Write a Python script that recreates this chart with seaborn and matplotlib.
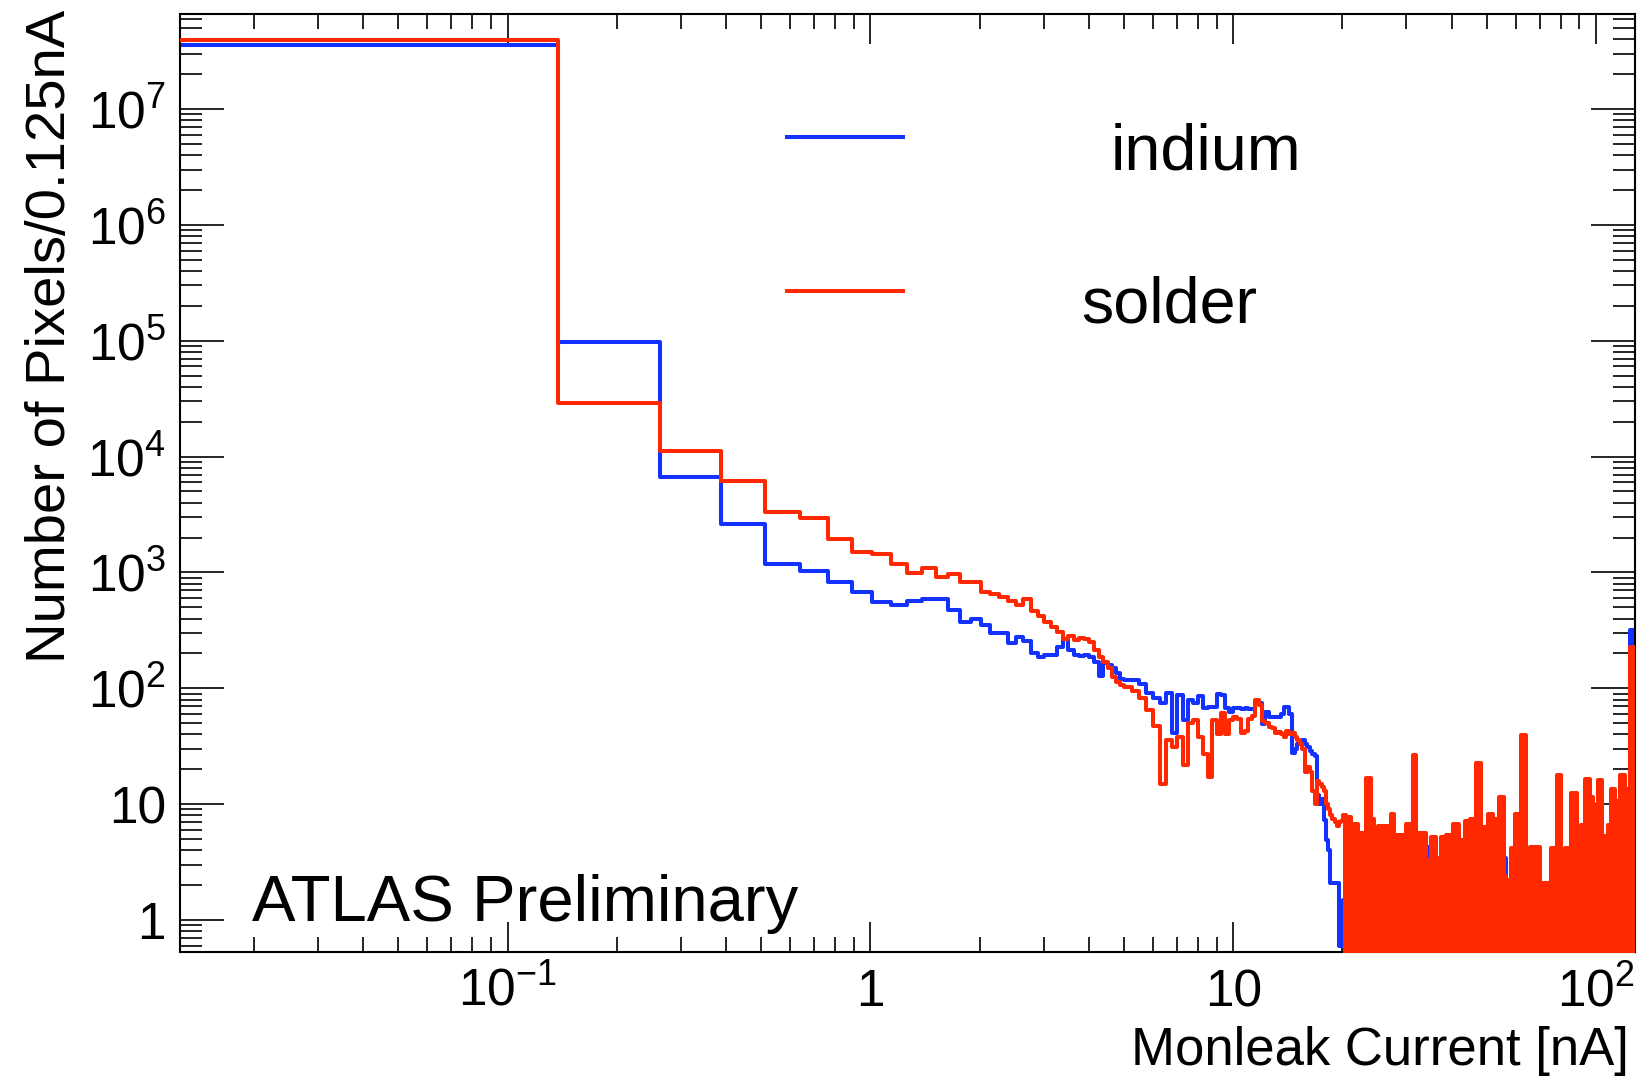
import numpy as np
import pandas as pd
import matplotlib
matplotlib.use("Agg")
import matplotlib.pyplot as plt
import seaborn as sns
from matplotlib.ticker import LogLocator, NullFormatter

# ---------------- data ----------------
BIN_W = 0.125                      # nA per bin
X_MIN, X_MAX = 0.0125, 128.0125
Y_MIN, Y_MAX = 0.53, 6.6e7

# 0.125 nA bins, 0.0125 -> 5.0125 nA
red_fine = [3.9e7, 2.9e4, 1.11e4, 6100, 3350, 2960, 1930, 1510, 1440, 1180,
            995, 1100, 907, 970, 820, 820, 682, 651, 610, 570,
            527, 585, 467, 423, 377, 341, 309, 265, 280, 262,
            271, 266, 253, 215, 188, 170, 149, 126, 114, 107]
blue_fine = [3.6e7, 9.8e4, 6700, 2620, 1180, 1020, 832, 682, 552, 527,
             562, 585, 585, 476, 371, 393, 351, 299, 299, 245,
             275, 254, 200, 185, 194, 194, 229, 265, 215, 194,
             190, 194, 185, 170, 128, 165, 159, 149, 135, 120]

# 0.25 nA groups, 5 -> 20 nA
red_mid = [102, 94, 82, 65, 47, 15, 36, 31, 38, 22,
           50, 53, 38, 27, 17, 53, 40, 61, 40, 53,
           57, 54, 41, 43, 54, 58, 79, 72, 52, 50,
           46, 45, 41, 42, 40, 38, 43, 40, 41, 38,
           36, 33, 30, 19, 21, 19, 13, 10, 16, 15,
           14, 13, 10, 9, 8, 7.5, 7, 6.5, 7, 7.2]
blue_mid = [118, 118, 110, 91, 82, 74, 91, 41, 88, 53,
            79, 74, 85, 67, 69, 69, 90, 88, 67, 63,
            68, 68, 66, 68, 66, 66, 74, 74, 49, 62,
            57, 57, 57, 57, 60, 69, 69, 60, 27.5, 30,
            33, 34, 36, 33, 31, 29, 27, 26, 12, 10,
            11, 7.3, 4.9, 4, 2.1, 2.1, 2.1, 2.1, 0.6, 0.6]

# noisy tail 20 -> 128 nA (envelope segments)
noise_edges = [20.0125, 20.5, 21.1, 22.0, 23.2, 23.9, 24.5, 25.1, 26.7, 27.2,
               27.8, 30.0, 31.2, 31.9, 32.3, 34.0, 35.1, 36.3, 37.4, 38.6,
               40.3, 42.0, 43.4, 44.8, 45.8, 46.8, 48.2, 49.8, 50.5, 51.9,
               53.1, 54.0, 55.6, 56.5, 58.4, 59.6, 62.2, 64.2, 65.6, 69.9,
               73.7, 75.2, 78.2, 80.2, 81.9, 85.4, 88.8, 90.7, 93.0, 96.0,
               98.0, 100.1, 101.2, 103.8, 107.8, 109.6, 112.5, 116.1, 119.8, 123.7,
               128.0125]
red_noise = [8.0, 7.8, 6.8, 5.6, 16.7, 7.5, 5.6, 6.5, 4.3, 8.3,
             5.4, 6.8, 26.6, 5.2, 5.6, 3.3, 5.2, 3.4, 5.2, 5.4,
             6.8, 4.9, 7.1, 7.5, 6.6, 22.5, 6.4, 3.4, 8.3, 7.5,
             4.2, 11.6, 2.4, 2.2, 4.2, 8.3, 39.5, 3.3, 4.3, 2.1,
             1.07, 4.2, 17.9, 3.3, 4.2, 12.4, 5.3, 6.6, 16.5, 11.6,
             5.3, 9.6, 16.2, 5.3, 6.6, 13.5, 10.6, 17.9, 13.5, 229]
blue_noise = [1.5, 1.5, 1.5, 1.5, 1.5, 1.5, 1.5, 1.5, 1.5, 1.5,
              1.5, 1.5, 1.5, 1.5, 1.5, 4.3, 1.5, 1.5, 1.5, 1.5,
              1.5, 1.5, 1.5, 1.5, 1.5, 1.5, 1.5, 1.5, 1.5, 1.5,
              1.5, 1.5, 3.4, 1.5, 1.5, 1.5, 1.5, 1.5, 1.5, 1.5,
              2.1, 1.5, 1.5, 1.5, 1.5, 1.5, 1.5, 1.5, 1.5, 1.5,
              1.5, 1.5, 1.5, 1.5, 1.5, 1.5, 1.5, 1.5, 1.5, 319]

series_names = ["indium", "solder"]
x_major = [0.1, 1, 10, 100]
x_labels = [r"$\mathregular{10^{-1}}$", "1", "10", r"$\mathregular{10^{2}}$"]
y_major = [1, 10, 1e2, 1e3, 1e4, 1e5, 1e6, 1e7]
y_labels = ["1", "10"] + [r"$\mathregular{10^{%d}}$" % e for e in range(2, 8)]
x_title = "Monleak Current [nA]"
y_title = "Number of Pixels/0.125nA"
tag = "ATLAS Preliminary"

BLUE = "#1432ff"
RED = "#ff2800"

# ---------------- bin edges ----------------
fine_edges = [X_MIN + BIN_W * k for k in range(0, len(red_fine) + 1)]
mid_edges = [fine_edges[-1] + 2 * BIN_W * j for j in range(1, len(red_mid) + 1)]
edges_all = fine_edges + mid_edges + noise_edges[1:]
red_all = red_fine + red_mid + red_noise
blue_all = blue_fine + blue_mid + blue_noise
assert len(edges_all) == len(red_all) + 1 == len(blue_all) + 1

# ---------------- styling ----------------
sns.set_theme(style="ticks")
plt.rcParams["font.family"] = ["Liberation Sans", "DejaVu Sans"]
plt.rcParams["mathtext.fontset"] = "custom"
plt.rcParams["mathtext.rm"] = "Liberation Sans"
plt.rcParams["mathtext.it"] = "Liberation Sans:italic"
plt.rcParams["mathtext.bf"] = "Liberation Sans:bold"
for key in ["text.color", "axes.labelcolor", "xtick.color", "ytick.color",
            "axes.edgecolor", "xtick.labelcolor", "ytick.labelcolor"]:
    plt.rcParams[key] = "black"
plt.rcParams["axes.linewidth"] = 1.5

fig = plt.figure(figsize=(16.46, 10.77), dpi=100)
ax = fig.add_axes([180 / 1646, 1 - 952 / 1077, 1455 / 1646, 938 / 1077])

LW = 2.9
for name, vals, col, z in [("indium", blue_all, BLUE, 2), ("solder", red_all, RED, 3)]:
    df = pd.DataFrame({"x": edges_all, "y": vals + [vals[-1]]})
    sns.lineplot(data=df, x="x", y="y", drawstyle="steps-post", estimator=None,
                 sort=False, color=col, linewidth=LW, ax=ax, zorder=z)

# filled tail (dense bins in the reference look solid)
ax.fill_between(noise_edges, blue_noise + [blue_noise[-1]], 1e-3, step="post",
                color=BLUE, linewidth=0, zorder=2)
ax.fill_between(noise_edges, red_noise + [red_noise[-1]], 1e-3, step="post",
                color=RED, linewidth=0, zorder=3)

ax.set_xscale("log")
ax.set_yscale("log")
ax.set_xlim(X_MIN, X_MAX)
ax.set_ylim(Y_MIN, Y_MAX)

ax.set_xticks(x_major, x_labels)
ax.set_yticks(y_major, y_labels)
ax.xaxis.set_minor_locator(LogLocator(base=10, subs=np.arange(2, 10), numticks=100))
ax.yaxis.set_minor_locator(LogLocator(base=10, subs=np.arange(2, 10), numticks=100))
ax.xaxis.set_minor_formatter(NullFormatter())
ax.yaxis.set_minor_formatter(NullFormatter())

ax.tick_params(which="both", direction="in", top=True, right=True,
               color="black", width=1.2)
ax.tick_params(axis="x", which="major", length=21.6, labelsize=37, pad=39)
ax.tick_params(axis="x", which="minor", length=10.8)
ax.tick_params(axis="y", which="major", length=31.7, labelsize=37, pad=10)
ax.tick_params(axis="y", which="minor", length=15.8)
for lbl in ax.get_xticklabels():
    lbl.set_verticalalignment("baseline")

ax.set_xlabel(x_title, fontsize=38, ha="right", va="baseline")
ax.xaxis.set_label_coords(0.996, -0.1205)
ax.set_ylabel(y_title, fontsize=40.5, ha="right", va="center")
ax.yaxis.set_label_coords(-0.089, 1.004)

# legend (drawn in axes coordinates)
ax.plot([0.4158, 0.4983], [0.8694, 0.8694], transform=ax.transAxes, color=BLUE,
        linewidth=LW, solid_capstyle="butt")
ax.plot([0.4158, 0.4983], [0.7047, 0.7047], transform=ax.transAxes, color=RED,
        linewidth=LW, solid_capstyle="butt")
ax.text(0.6399, 0.8337, series_names[0], transform=ax.transAxes, fontsize=46.5,
        ha="left", va="baseline")
ax.text(0.6192, 0.6706, series_names[1], transform=ax.transAxes, fontsize=46.5,
        ha="left", va="baseline")

ax.text(0.0495, 0.033, tag, transform=ax.transAxes, fontsize=47,
        ha="left", va="baseline")

fig.savefig("out.png", dpi=100, facecolor="white")
